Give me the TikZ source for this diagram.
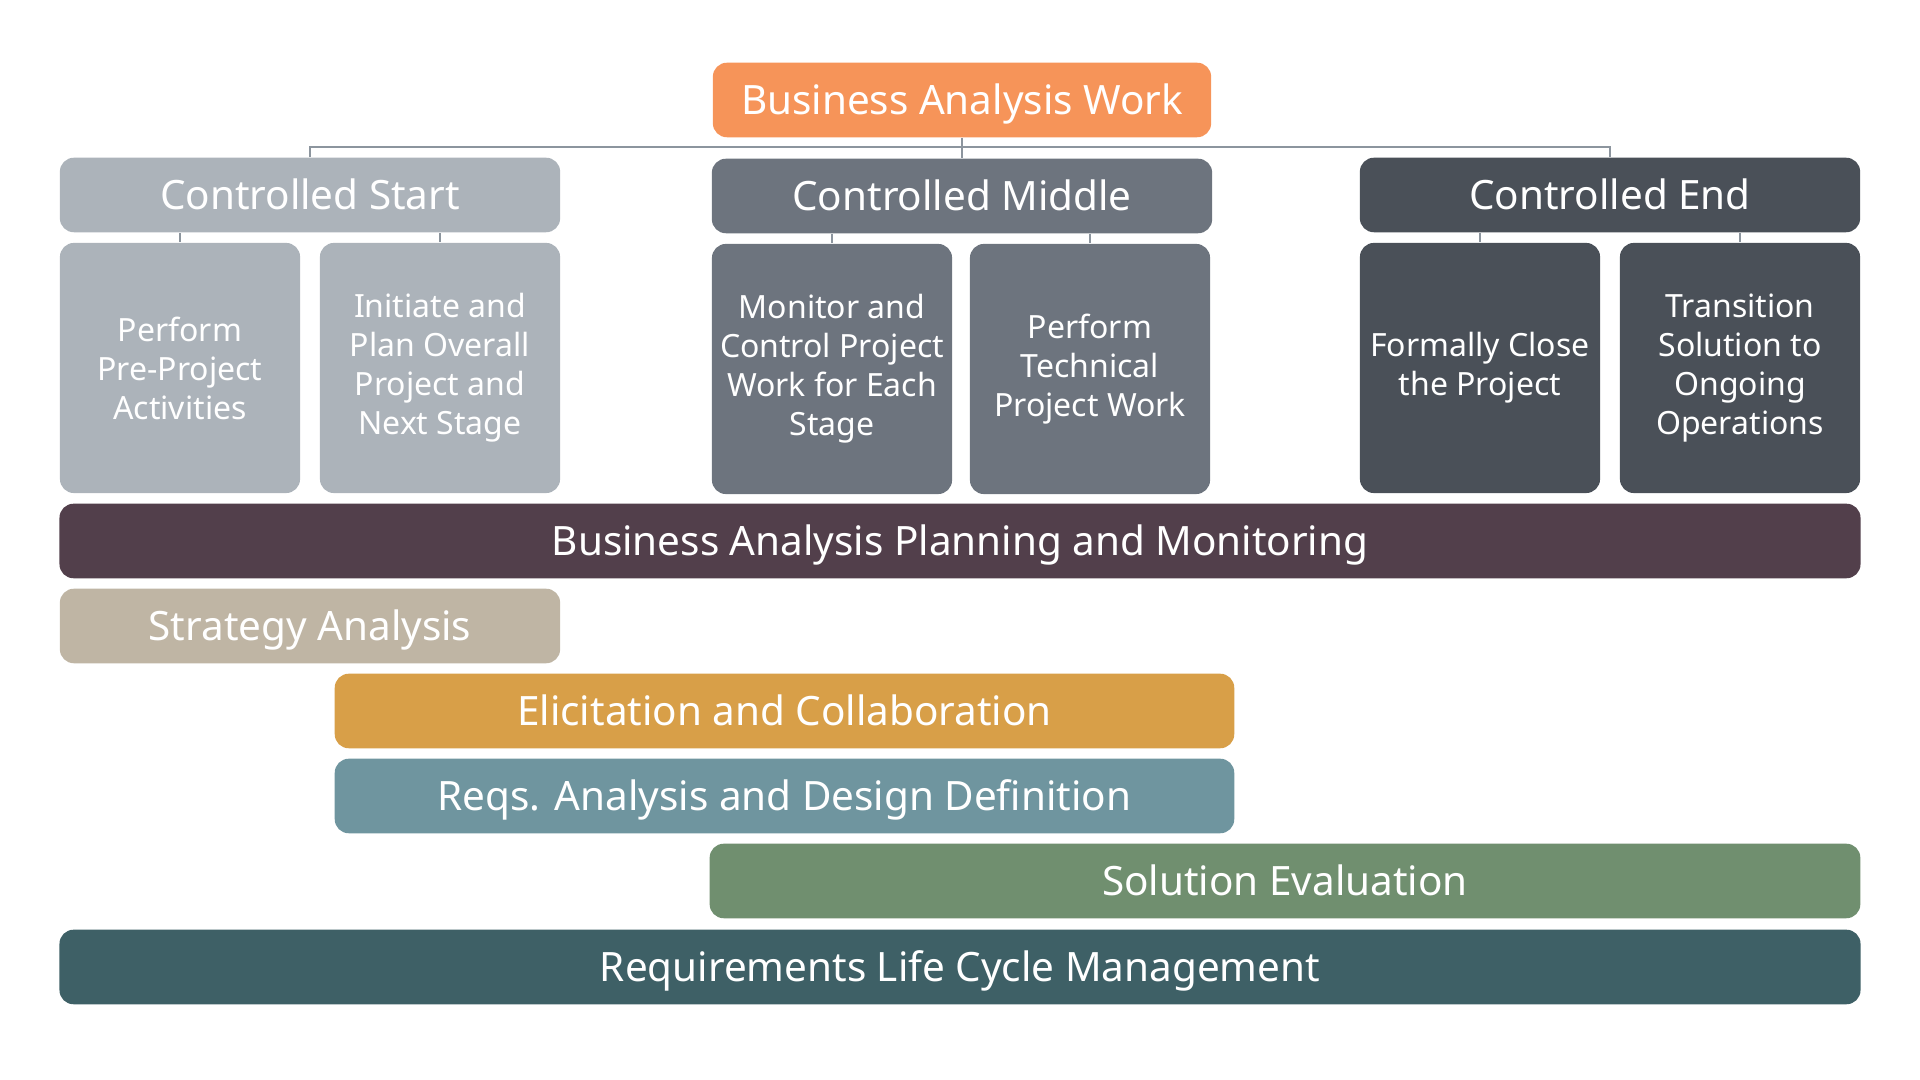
\documentclass[tikz,border=0pt]{standalone}
\usepackage{fontspec}
\setmainfont{Noto Sans}
\definecolor{cOrange}{HTML}{F69459}
\definecolor{cStart}{HTML}{ACB3BA}
\definecolor{cMiddle}{HTML}{6D747E}
\definecolor{cEnd}{HTML}{4A5058}
\definecolor{cPlan}{HTML}{523F4B}
\definecolor{cStrat}{HTML}{BFB5A4}
\definecolor{cElic}{HTML}{D89F48}
\definecolor{cReqs}{HTML}{6F959F}
\definecolor{cSol}{HTML}{708F6F}
\definecolor{cRlcm}{HTML}{3E6066}
\definecolor{cLink}{HTML}{8C959E}
\begin{document}
\begin{tikzpicture}[
    x=0.01cm, y=-0.01cm,
    block/.style={rectangle, rounded corners=0.14cm, inner sep=0pt, text=white,
        font=\fontsize{11.5}{13.5}\selectfont, minimum height=0.745cm,
        text height=8.2pt, text depth=0pt},
    phase/.style={block, minimum width=5cm},
    sub/.style={rectangle, rounded corners=0.14cm, inner sep=0pt, text=white,
        minimum width=2.4cm, minimum height=2.5cm, align=center,
        font=\fontsize{9.1}{11.1}\selectfont},
    link/.style={draw=cLink, line width=0.45pt}
]
    \useasboundingbox (0,0) rectangle (1920,1080);

    % top and phases
    \node[block, fill=cOrange, minimum width=4.98cm] (baw) at (962,100) {Business Analysis Work};
    \node[phase, fill=cStart] (cs) at (310,195) {Controlled Start};
    \node[phase, fill=cMiddle] (cm) at (962,196) {Controlled Middle};
    \node[phase, fill=cEnd] (ce) at (1610,195) {Controlled End};

    \node[sub, fill=cStart] (s1) at (180,368) {Perform\\Pre-Project\\Activities};
    \node[sub, fill=cStart] (s2) at (440,368) {Initiate and\\Plan Overall\\Project and\\Next Stage};
    \node[sub, fill=cMiddle] (m1) at (832,369) {Monitor and\\Control Project\\Work for Each\\Stage};
    \node[sub, fill=cMiddle] (m2) at (1090,369) {Perform\\Technical\\Project Work};
    \node[sub, fill=cEnd] (e1) at (1480,368) {Formally Close\\the Project};
    \node[sub, fill=cEnd] (e2) at (1740,368) {Transition\\Solution to\\Ongoing\\Operations};

    \coordinate (bar) at (962,147);
    \draw[link] (cs.north) |- (bar) -| (ce.north);
    \draw[link] (baw.south) -- (cm.north);
    \foreach \p/\c in {cs/s1, cs/s2, cm/m1, cm/m2, ce/e1, ce/e2} {
        \draw[link] (\c.north) -- (\c.north |- \p.south);
    }

    % knowledge areas
    \node[block, fill=cPlan, minimum width=18cm] (bapm) at (960,541) {Business Analysis Planning and Monitoring};
    \node[phase, fill=cStrat] (sa) at (310,626) {Strategy Analysis};
    \node[block, fill=cElic, minimum width=8.99cm] (ec) at (784.5,711) {Elicitation and Collaboration};
    \node[block, fill=cReqs, minimum width=8.99cm] (radd) at (784.5,796) {Reqs. Analysis and Design Definition};
    \node[block, fill=cSol, minimum width=11.5cm] (se) at (1285,881) {Solution Evaluation};
    \node[block, fill=cRlcm, minimum width=18cm] (rlcm) at (960,967) {Requirements Life Cycle Management};
\end{tikzpicture}
\end{document}
